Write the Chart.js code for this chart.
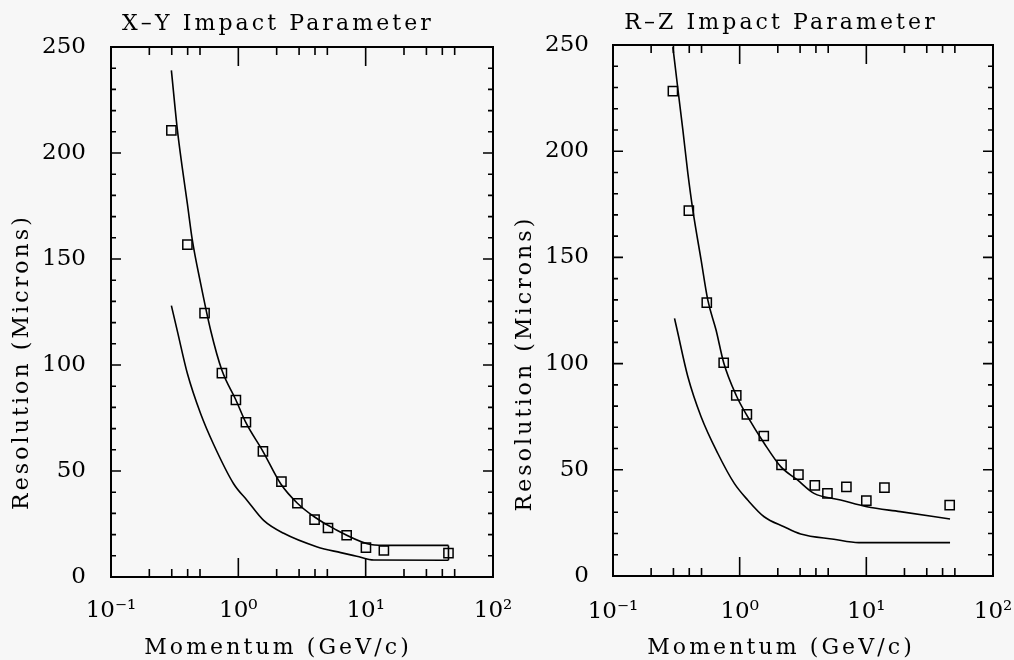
<!DOCTYPE html>
<html>
<head>
<meta charset="utf-8">
<script src="https://cdn.jsdelivr.net/npm/chart.js@4.4.1/dist/chart.umd.min.js"></script>
<style>
  html, body { margin: 0; padding: 0; background: #f7f7f7; width: 1014px; height: 660px; overflow: hidden; position: relative; }
  canvas { position: absolute; top: 0; }
  #xyChart { left: 0; }
  #rzChart { left: 500px; }
</style>
</head>
<body>
<canvas id="xyChart" width="556" height="660"></canvas>
<canvas id="rzChart" width="562" height="660"></canvas>
<script>
// ---------- axis ticks ----------
const xMajorTicks = [0.1, 1, 10, 100];
const xTickLabels = ['10⁻¹', '10⁰', '10¹', '10²'];
const xMinorMultipliers = [2, 3, 4, 5];
const yTickLabels = [0, 50, 100, 150, 200, 250];

// ---------- X-Y impact parameter ----------
const xyDataMomentum   = [0.298, 0.398, 0.543, 0.743, 0.957, 1.147, 1.56, 2.18, 2.91, 3.97, 5.06, 7.09, 10.05, 13.9, 44.7];
const xyDataResolution = [210.7, 156.8, 124.5, 96.2, 83.5, 73.0, 59.3, 45.0, 34.8, 27.1, 23.1, 19.7, 13.9, 12.5, 11.3];
const xyUpperMomentum   = [0.298, 0.332, 0.363, 0.398, 0.435, 0.506, 0.606, 0.743, 0.957, 1.147, 1.56, 2.15, 2.91, 3.97, 5.64, 10.3, 13.9, 44.7];
const xyUpperResolution = [239, 211, 193, 176, 159, 138.4, 116.4, 97.5, 83.5, 72.8, 59.3, 44.0, 34.8, 28.3, 22.8, 15.7, 14.9, 14.9];
const xyLowerMomentum   = [0.298, 0.332, 0.398, 0.506, 0.64, 0.918, 1.177, 1.58, 2.27, 4.17, 6.37, 8.5, 11.6, 44.7];
const xyLowerResolution = [128, 116, 96, 77, 62.5, 44, 36, 26.7, 20.6, 14.2, 11.5, 9.8, 8.0, 7.9];

// ---------- R-Z impact parameter ----------
const rzDataMomentum   = [0.297, 0.397, 0.55, 0.748, 0.94, 1.14, 1.55, 2.14, 2.91, 3.92, 4.93, 6.96, 10.0, 13.9, 45.5];
const rzDataResolution = [228.3, 172, 128.7, 100.4, 85, 76.1, 65.9, 52.3, 47.7, 42.7, 38.9, 42.0, 35.5, 41.6, 33.4];
const rzUpperMomentum   = [0.297, 0.326, 0.356, 0.39, 0.427, 0.496, 0.56, 0.651, 0.748, 0.94, 1.156, 1.56, 2.11, 2.86, 3.86, 6.26, 10.1, 18.5, 45.8];
const rzUpperResolution = [249, 228.8, 210, 189.6, 172.3, 148.8, 130, 115.8, 100.4, 85, 75, 62.5, 51.5, 45.2, 38.9, 35.8, 32.6, 30.3, 26.8];
const rzLowerMomentum   = [0.306, 0.321, 0.39, 0.496, 0.671, 0.907, 1.156, 1.56, 2.24, 3.03, 5.54, 8.71, 45.8];
const rzLowerResolution = [121.3, 115.8, 93.8, 75, 57.8, 43.6, 35.8, 27.9, 23.2, 19.8, 17.3, 15.7, 15.7];

// tick values used by the log axis (majors plus the 2..5 minors)
const xTickValues = [];
xMajorTicks.forEach((m, i) => {
  xTickValues.push(m);
  if (i < xMajorTicks.length - 1) xMinorMultipliers.forEach(k => xTickValues.push(+(m * k).toPrecision(3)));
});

const FONT = "'DejaVu Serif', serif";
const pts = (xs, ys) => xs.map((x, i) => ({ x, y: ys[i] }));

// letter spacing for the wide titles (22px text)
const spacingPlugin = {
  id: 'spacing',
  beforeInit(chart) {
    const ctx = chart.ctx;
    const fill = ctx.fillText, measure = ctx.measureText;
    const setSp = c => { try { c.letterSpacing = /\b22px/.test(c.font) ? '3.1px' : '0px'; } catch (e) {} };
    ctx.fillText = function (...a) { setSp(this); return fill.apply(this, a); };
    ctx.measureText = function (...a) { setSp(this); return measure.apply(this, a); };
  }
};

// frame box, inward ticks, y-title shift
const frameTicksPlugin = {
  id: 'frameTicks',
  beforeDraw(chart, args, opts) {
    const s = chart.scales.y;
    if (s && !s.__shifted) {
      const orig = s.drawTitle;
      s.drawTitle = function (...a) {
        this.ctx.save();
        this.ctx.translate(0, opts.titleShift || 0);
        orig.apply(this, a);
        this.ctx.restore();
      };
      s.__shifted = true;
    }
  },
  afterDatasetsDraw(chart) {
    const { ctx, chartArea: a, scales } = chart;
    const x = scales.x, y = scales.y;
    ctx.save();
    ctx.strokeStyle = '#000';
    ctx.lineWidth = 1.6;
    ctx.beginPath();
    x.ticks.forEach(t => {
      const px = x.getPixelForValue(t.value);
      if (px <= a.left + 1 || px >= a.right - 1) return;
      const len = xMajorTicks.includes(t.value) ? 19 : 8;
      ctx.moveTo(px, a.bottom); ctx.lineTo(px, a.bottom - len);
      ctx.moveTo(px, a.top); ctx.lineTo(px, a.top + len);
    });
    y.ticks.forEach(t => {
      const py = y.getPixelForValue(t.value);
      if (py <= a.top + 1 || py >= a.bottom - 1) return;
      const len = yTickLabels.includes(t.value) ? 10 : 5;
      ctx.moveTo(a.left, py); ctx.lineTo(a.left + len, py);
      ctx.moveTo(a.right, py); ctx.lineTo(a.right - len, py);
    });
    ctx.stroke();
    ctx.lineWidth = 2;
    ctx.strokeRect(a.left, a.top, a.right - a.left, a.bottom - a.top);
    ctx.restore();
  }
};

function lineSet(data, mode) {
  return {
    data, showLine: true, pointRadius: 0, pointHoverRadius: 0,
    borderColor: '#000', borderWidth: 1.6, fill: false,
    cubicInterpolationMode: mode || 'monotone', tension: 0
  };
}

function makePanel(id, title, measured, upper, lower, extra, L) {
  const datasets = [
    {
      data: measured, showLine: false, pointStyle: 'rect',
      pointRadius: 6.5, pointHoverRadius: 6.5, pointBorderWidth: 1.5,
      borderColor: '#000', backgroundColor: 'rgba(0,0,0,0)',
      pointBackgroundColor: 'rgba(0,0,0,0)', pointBorderColor: '#000'
    },
    lineSet(upper),
    lineSet(lower)
  ];
  extra.forEach(d => datasets.push(lineSet(d, 'default')));

  return new Chart(document.getElementById(id), {
    type: 'scatter',
    data: { datasets },
    options: {
      responsive: false, animation: false, devicePixelRatio: 1,
      layout: { padding: 0 },
      plugins: {
        legend: { display: false },
        tooltip: { enabled: false },
        title: {
          display: true, text: title, color: '#000',
          font: { family: FONT, size: 22, lineHeight: 1.2, weight: 'normal' },
          padding: { top: L.titleTop, bottom: L.titleBottom }
        },
        subtitle: {
          display: true, position: 'bottom', text: 'Momentum (GeV/c)', color: '#000',
          font: { family: FONT, size: 22, lineHeight: 1, weight: 'normal' },
          padding: { top: 0, bottom: 1 }
        },
        frameTicks: { titleShift: L.yTitleShift }
      },
      scales: {
        x: {
          type: 'logarithmic', position: 'bottom', min: 0.1, max: 100,
          afterBuildTicks: axis => { axis.ticks = xTickValues.map(v => ({ value: v })); },
          afterFit: s => { s.height = L.xAxisHeight; },
          grid: { display: false, drawTicks: false }, border: { display: false },
          ticks: {
            autoSkip: false, maxRotation: 0, minRotation: 0, padding: L.xTickPad,
            color: '#000', font: { family: FONT, size: 23 },
            callback: v => { const i = xMajorTicks.indexOf(v); return i >= 0 ? xTickLabels[i] : ''; }
          }
        },
        y: {
          position: 'left', min: 0, max: 250,
          afterFit: s => { s.width = L.yAxisWidth; },
          grid: { display: false, drawTicks: false }, border: { display: false },
          title: {
            display: true, text: 'Resolution (Microns)', color: '#000',
            font: { family: FONT, size: 22, lineHeight: 1, weight: 'normal' },
            padding: { top: L.yTitlePad, bottom: 0 }
          },
          ticks: {
            stepSize: 10, autoSkip: false, padding: L.yTickPad,
            color: '#000', font: { family: FONT, size: 23 },
            callback: v => yTickLabels.includes(v) ? String(v) : ''
          }
        },
        yRight: {
          position: 'right', display: true,
          afterFit: s => { s.width = L.rightWidth; },
          grid: { display: false, drawTicks: false }, border: { display: false },
          ticks: { display: false }
        }
      }
    },
    plugins: [spacingPlugin, frameTicksPlugin]
  });
}

// left panel
const xyUpper = pts(xyUpperMomentum, xyUpperResolution);
const xyLower = pts(xyLowerMomentum, xyLowerResolution);
const xyEndCap = [xyUpper[xyUpper.length - 1], xyLower[xyLower.length - 1]];
makePanel('xyChart', 'X–Y Impact Parameter',
  pts(xyDataMomentum, xyDataResolution), xyUpper, xyLower, [xyEndCap],
  { titleTop: 11, titleBottom: 9.6, xAxisHeight: 60, xTickPad: 20, yAxisWidth: 111, yTickPad: 25,
    yTitlePad: 11, yTitleShift: 50, rightWidth: 63 });

// right panel
makePanel('rzChart', 'R–Z Impact Parameter',
  pts(rzDataMomentum, rzDataResolution), pts(rzUpperMomentum, rzUpperResolution),
  pts(rzLowerMomentum, rzLowerResolution), [],
  { titleTop: 10, titleBottom: 8.6, xAxisHeight: 61, xTickPad: 22, yAxisWidth: 113, yTickPad: 24,
    yTitlePad: 14, yTitleShift: 53, rightWidth: 69 });
</script>
</body>
</html>
